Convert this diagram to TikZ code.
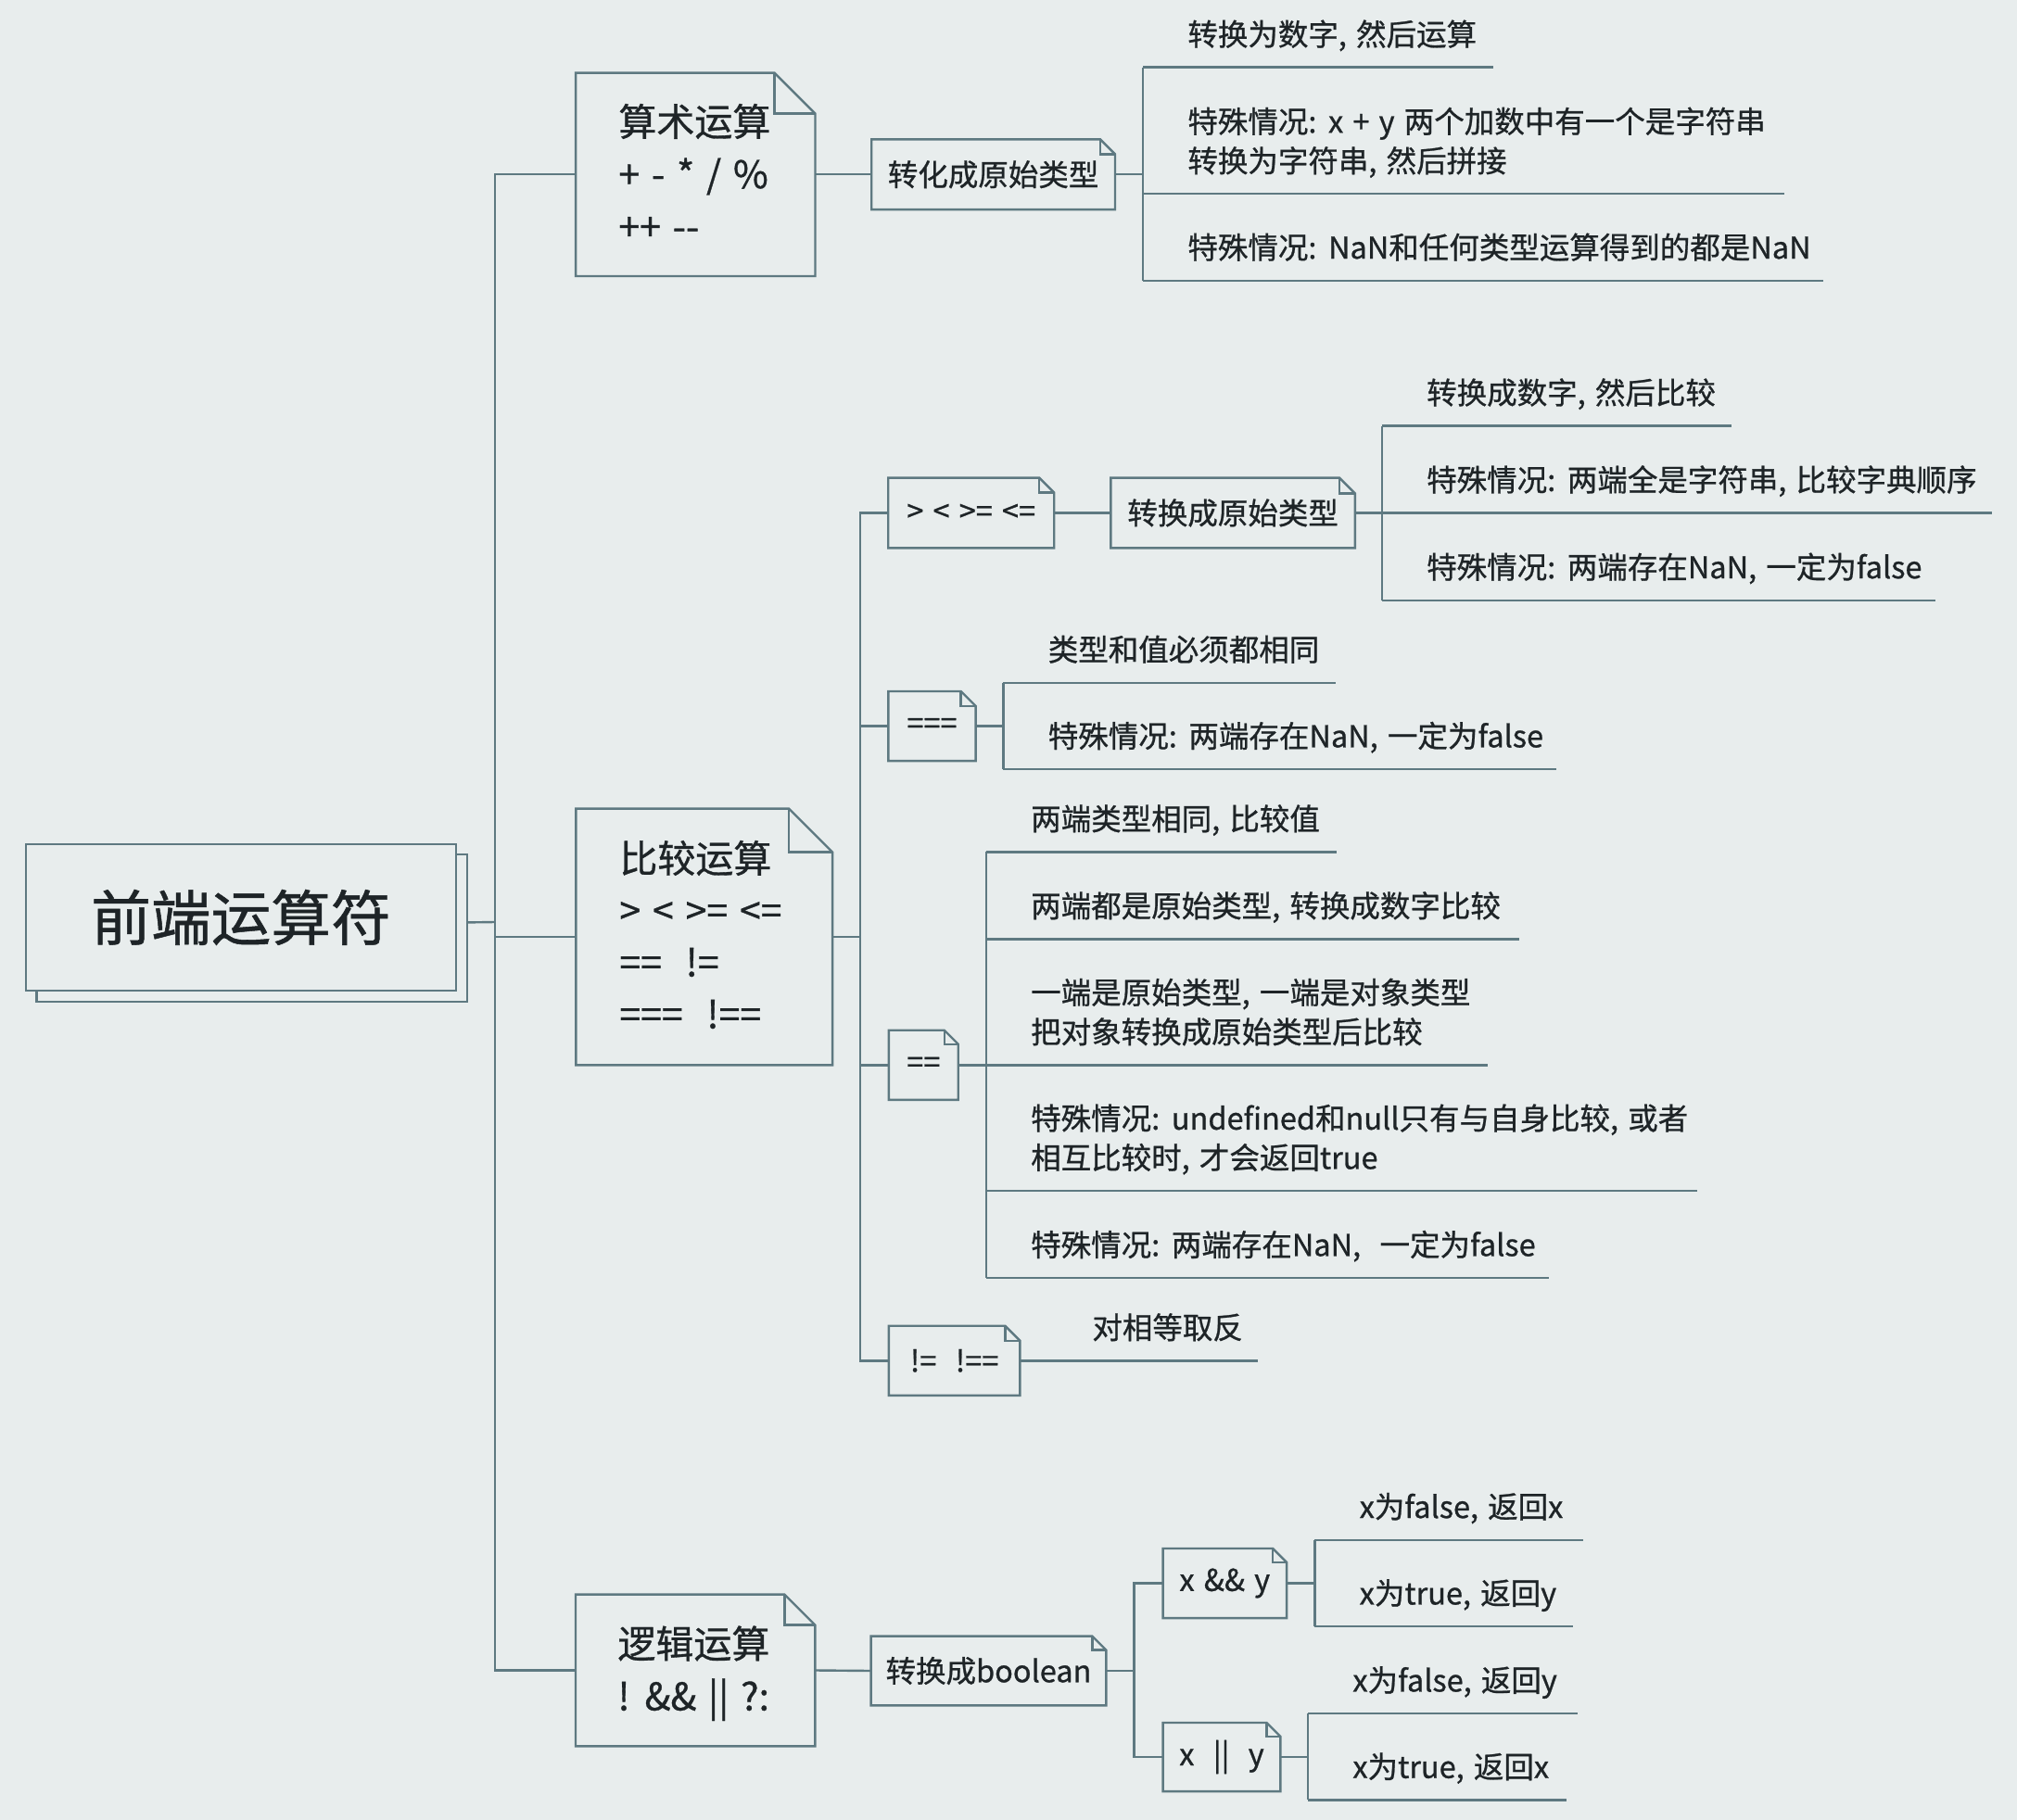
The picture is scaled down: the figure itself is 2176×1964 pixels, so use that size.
\documentclass[tikz,border=0pt]{standalone}
\usepackage{fontspec}
\newfontfamily\cjk{Noto Sans CJK SC}[FakeBold=0.8,WordSpace=1.4]
\definecolor{bg}{RGB}{232,237,237}
\definecolor{lc}{RGB}{94,121,129}
\definecolor{tc}{RGB}{30,36,39}
\tikzset{
  line/.style={draw=lc, line width=1.2pt},
  box/.style={rectangle, draw=lc, line width=1.2pt, inner sep=0pt, text=tc},
  dog/.style={rectangle, inner sep=0pt, text=tc, font=\cjk\fontsize{16.25}{21.25}\selectfont},
  lonet/.style={anchor=base west, inner sep=0pt, text=tc, font=\cjk\fontsize{20.5}{27.75}\selectfont},
  lft/.style={anchor=base west, inner sep=0pt, text=tc, font=\cjk\fontsize{16.25}{21.25}\selectfont},
}
\newcommand\dogear[2]{%
  \draw[line, line join=miter] (#1.north west) -- ([xshift=-#2]#1.north east) -- ([yshift=-#2]#1.north east) -- (#1.south east) -- (#1.south west) -- cycle;
  \draw[line] ([xshift=-#2]#1.north east) |- ([yshift=-#2]#1.north east);}
\newcommand\leafone[5]{%
  \coordinate (#1a) at (#2,#3);
  \coordinate (#1b) at (#4,#3);
  \node[lft] (#1) at ({#2+48},{#3-23.6}) {#5};
  \draw[line] (#1a) -- (#1b);}
\newcommand\leaftwo[6]{%
  \coordinate (#1a) at (#2,#3);
  \coordinate (#1b) at (#4,#3);
  \node[lft] (#1) at ({#2+48},{#3-23.6-42.5}) {#5};
  \node[lft] (#1x) at ({#2+48},{#3-23.6}) {#6};
  \draw[line] (#1a) -- (#1b);}
\begin{document}
\begin{tikzpicture}[x=0.5pt,y=-0.5pt]
\fill[bg] (0,0) rectangle (2176,1964);
\useasboundingbox (0,0) rectangle (2176,1964);

% root
\node[box, fill=bg, minimum width=232.2pt, minimum height=79.35pt] (rootsh) at (271.8,1001.4) {};
\node[box, fill=bg, minimum width=232pt, minimum height=79.15pt, font=\cjk\fontsize{32.35}{38}\selectfont] (root) at (260,990) {前端运算符};

% level 1
\node[dog, minimum width=128.75pt, minimum height=109.25pt] (a1) at (750.3,188.3) {};
\dogear{a1}{22pt}
\node[lonet] (a1t1) at (667,146.6) {算术运算};
\node[lonet] (a1t2) at (667,203.1) {+ - * / \%};
\node[lonet] (a1t3) at (667,259.6) {++ -{}-};

\node[dog, minimum width=138pt, minimum height=138pt] (a2) at (759.7,1011) {};
\dogear{a2}{23.5pt}
\node[lonet] (a2t1) at (668,941.6) {比较运算};
\node[lonet] (a2t2) at (668,997.6) {> < >= <=};
\node[lonet] (a2t3) at (668,1053.6) {==\ \ !=};
\node[lonet] (a2t4) at (668,1109.6) {===\ \ !==};

\node[dog, minimum width=128.8pt, minimum height=81.5pt] (a3) at (750.2,1802.5) {};
\dogear{a3}{16.5pt}
\node[lonet] (a3t1) at (666,1789.1) {逻辑运算};
\node[lonet] (a3t2) at (666,1845.6) {! \&\& || ?:};

% level 2 boxes
\node[dog, minimum width=131pt, minimum height=37.5pt] (b1) at (1071.6,188.3) {转化成原始类型};
\dogear{b1}{8pt}
\node[dog, minimum width=89.1pt, minimum height=37.5pt] (b2) at (1047.7,553.5) {> < >= <=};
\dogear{b2}{8pt}
\node[dog, minimum width=131.4pt, minimum height=37.5pt] (c2) at (1330.1,553.5) {转换成原始类型};
\dogear{c2}{8.5pt}
\node[dog, minimum width=46.75pt, minimum height=37.15pt] (b3) at (1005.5,783.5) {===};
\dogear{b3}{8pt}
\node[dog, minimum width=37pt, minimum height=37.2pt] (b4) at (996.3,1149.3) {==};
\dogear{b4}{7.5pt}
\node[dog, minimum width=70.35pt, minimum height=37.15pt] (b5) at (1029.6,1468.3) {!=\ \ !==};
\dogear{b5}{8pt}
\node[dog, minimum width=126.5pt, minimum height=37pt] (b6) at (1066.5,1803) {转换成boolean};
\dogear{b6}{7.5pt}
\node[dog, minimum width=66.35pt, minimum height=37.15pt] (b7) at (1321.3,1708.5) {x \&\& y};
\dogear{b7}{7.5pt}
\node[dog, minimum width=63pt, minimum height=36.65pt] (b8) at (1318,1896) {x\ \ ||\ \ y};
\dogear{b8}{7.5pt}

% trunk
\coordinate (trunk) at (534,995);
\draw[line] ([yshift=3pt]rootsh.east) -- (trunk);
\draw[line] (a1.west) -| (trunk) |- (a3.west);
\draw[line] (a2.west) -- (a2.west -| trunk);

% arithmetic
\draw[line] (a1.east) -- (b1.west);
\leafone{A1}{1233}{72.7}{1610.7}{转换为数字, 然后运算}
\leaftwo{A2}{1233}{209.3}{1924.5}{特殊情况: x + y 两个加数中有一个是字符串}{转换为字符串, 然后拼接}
\leafone{A3}{1233}{302.7}{1966.5}{特殊情况: NaN和任何类型运算得到的都是NaN}
\draw[line] (A1a) -- (A3a);
\draw[line] (b1.east) -- (b1.east -| A1a);

% comparison
\coordinate (cmp) at (928,1011);
\draw[line] (a2.east) -- (cmp);
\draw[line] (b2.west) -| (cmp) |- (b5.west);
\draw[line] (b3.west) -- (b3.west -| cmp);
\draw[line] (b4.west) -- (b4.west -| cmp);
\draw[line] (b2.east) -- (c2.west);
\leafone{C1}{1490.8}{459.5}{1868}{转换成数字, 然后比较}
\leafone{C2}{1490.8}{553.5}{2149}{特殊情况: 两端全是字符串, 比较字典顺序}
\leafone{C3}{1490.8}{647.7}{2088}{特殊情况: 两端存在NaN, 一定为false}
\draw[line] (C1a) -- (C3a);
\draw[line] (c2.east) -- (C2a);

\leafone{D1}{1082.4}{736.7}{1441}{类型和值必须都相同}
\leafone{D2}{1082.4}{830}{1679}{特殊情况: 两端存在NaN, 一定为false}
\draw[line] (D1a) -- (D2a);
\draw[line] (b3.east) -- (b3.east -| D1a);

\leafone{E1}{1063.8}{919.3}{1442.3}{两端类型相同, 比较值}
\leafone{E2}{1063.8}{1013.3}{1638.9}{两端都是原始类型, 转换成数字比较}
\leaftwo{E3}{1063.8}{1149.3}{1605.4}{一端是原始类型, 一端是对象类型}{把对象转换成原始类型后比较}
\leaftwo{E4}{1063.8}{1285}{1830.8}{特殊情况: undefined和null只有与自身比较, 或者}{相互比较时, 才会返回true}
\leafone{E5}{1063.8}{1379}{1671.2}{特殊情况: 两端存在NaN,\ \ 一定为false}
\draw[line] (E1a) -- (E5a);
\draw[line] (b4.east) -- (E3a);

\leafone{F1}{1130}{1468.3}{1356.7}{对相等取反}
\draw[line] (b5.east) -- (F1a);

% logic
\draw[line] (a3.east) -- (b6.west);
\coordinate (lg) at (1223.5,1803);
\draw[line] (b6.east) -- (lg);
\draw[line] (b7.west) -| (lg) |- (b8.west);
\leafone{G1}{1418.3}{1661.7}{1708.3}{x为false, 返回x}
\leafone{G2}{1418.3}{1755}{1696.7}{x为true, 返回y}
\draw[line] (G1a) -- (G2a);
\draw[line] (b7.east) -- (b7.east -| G1a);
\leafone{H1}{1411}{1849}{1701.7}{x为false, 返回y}
\leafone{H2}{1411}{1942.3}{1690}{x为true, 返回x}
\draw[line] (H1a) -- (H2a);
\draw[line] (b8.east) -- (b8.east -| H1a);
\end{tikzpicture}
\end{document}
